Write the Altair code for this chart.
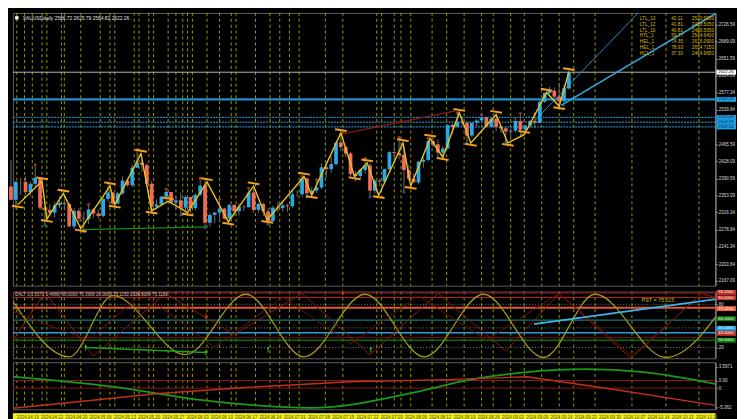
import altair as alt
import pandas as pd

W = 716
H_MAIN, H_OSC, H_BOT, H_BAND = 278, 68, 48, 9
XDOM = [0.4, 145.2]
FONT = "Liberation Sans"

# ---------------- price candles (daily XAUUSD) ----------------
opens = [2373, 2344, 2383, 2383, 2361, 2379, 2392, 2327, 2322, 2316, 2332, 2337, 2335, 2286, 2320, 2303,
         2302, 2323, 2314, 2309, 2346, 2360, 2336, 2358, 2386, 2376, 2414, 2425, 2420, 2379, 2329, 2334,
         2351, 2361, 2338, 2343, 2327, 2350, 2326, 2355, 2375, 2294, 2311, 2316, 2325, 2303, 2333, 2319,
         2329, 2328, 2360, 2322, 2335, 2319, 2298, 2327, 2326, 2332, 2330, 2356, 2356, 2391, 2358, 2364,
         2371, 2415, 2411, 2422, 2469, 2459, 2445, 2400, 2396, 2409, 2419, 2364, 2386, 2384, 2411, 2448,
         2446, 2442, 2409, 2390, 2382, 2427, 2431, 2472, 2465, 2447, 2456, 2507, 2503, 2514, 2512, 2484,
         2512, 2517, 2524, 2504, 2521, 2503, 2500, 2493, 2495, 2516, 2497, 2506, 2516, 2512, 2558, 2577,
         2582, 2569, 2559, 2586.72]
highs = [2431, 2385, 2392, 2395, 2384, 2417, 2393, 2341, 2335, 2339, 2352, 2346, 2337, 2326, 2326, 2318,
         2331, 2326, 2323, 2351, 2378, 2361, 2361, 2395, 2391, 2422, 2450, 2431, 2424, 2385, 2345, 2353,
         2364, 2362, 2351, 2360, 2354, 2351, 2358, 2388, 2387, 2316, 2318, 2342, 2327, 2336, 2334, 2336,
         2332, 2366, 2368, 2337, 2338, 2326, 2331, 2339, 2338, 2335, 2365, 2364, 2392, 2392, 2372, 2385,
         2424, 2425, 2440, 2469, 2483, 2463, 2448, 2407, 2412, 2431, 2425, 2389, 2390, 2412, 2450, 2469,
         2477, 2461, 2420, 2402, 2429, 2437, 2475, 2479, 2476, 2461, 2509, 2510, 2531, 2526, 2515, 2512,
         2520, 2526, 2525, 2523, 2525, 2506, 2503, 2500, 2523, 2529, 2507, 2518, 2528, 2560, 2578, 2590,
         2589, 2600, 2595, 2625.79]
lows = [2356, 2324, 2355, 2355, 2352, 2372, 2322, 2291, 2309, 2306, 2326, 2325, 2285, 2280, 2296, 2277,
        2291, 2305, 2303, 2306, 2340, 2332, 2335, 2354, 2373, 2372, 2413, 2405, 2374, 2326, 2325, 2333,
        2340, 2334, 2323, 2314, 2314, 2315, 2321, 2352, 2286, 2286, 2293, 2298, 2301, 2301, 2310, 2310,
        2320, 2327, 2316, 2316, 2309, 2294, 2293, 2317, 2318, 2318, 2326, 2351, 2350, 2353, 2353, 2359,
        2367, 2392, 2403, 2418, 2451, 2437, 2393, 2384, 2387, 2401, 2353, 2358, 2374, 2378, 2407, 2427,
        2432, 2364, 2385, 2382, 2378, 2414, 2428, 2459, 2439, 2432, 2455, 2488, 2500, 2505, 2470, 2480,
        2504, 2511, 2502, 2500, 2493, 2490, 2472, 2476, 2491, 2485, 2491, 2500, 2500, 2510, 2555, 2574,
        2562, 2546, 2547, 2584.82]
closes = [2344, 2383, 2383, 2361, 2379, 2392, 2327, 2322, 2316, 2332, 2337, 2335, 2286, 2320, 2303, 2302,
          2323, 2314, 2309, 2346, 2360, 2336, 2358, 2386, 2376, 2414, 2425, 2420, 2379, 2329, 2334, 2351,
          2361, 2338, 2343, 2327, 2350, 2326, 2355, 2375, 2294, 2311, 2316, 2325, 2303, 2333, 2319, 2329,
          2328, 2360, 2322, 2335, 2319, 2298, 2327, 2326, 2332, 2330, 2356, 2356, 2391, 2358, 2364, 2371,
          2415, 2411, 2422, 2469, 2459, 2445, 2400, 2396, 2409, 2419, 2364, 2386, 2384, 2411, 2448, 2446,
          2442, 2409, 2390, 2382, 2427, 2431, 2472, 2465, 2447, 2456, 2507, 2503, 2514, 2512, 2484, 2512,
          2517, 2524, 2504, 2521, 2503, 2500, 2493, 2495, 2516, 2497, 2506, 2516, 2512, 2558, 2577, 2582,
          2569, 2559, 2587, 2622.26]

# fractal dots (bar indices)
frac_hi = [5, 16, 20, 26, 32, 39, 43, 49, 60, 63, 68, 73, 80, 86, 92, 97, 105, 108]
frac_lo = [7, 15, 29, 35, 40, 53, 61, 74, 81, 88, 94, 102]

# zigzag pivots (bar position, price)
zz_pos = [1.4, 6.4, 7.4, 10.8, 14.4, 20.4, 21.4, 26.8, 29.0, 32.4, 36.4, 40.4, 44.8, 50.0, 52.8, 60.4,
          62.0, 68.0, 70.8, 73.4, 75.8, 80.8, 82.4, 86.4, 89.0, 92.4, 94.8, 100.0, 102.4, 105.8, 110.4,
          113.0, 115.0]
zz_price = [2333, 2385, 2302, 2358, 2281, 2374, 2333, 2445, 2320, 2341, 2316, 2383, 2296, 2374, 2300, 2395,
            2354, 2490, 2395, 2424, 2354, 2468, 2374, 2478, 2437, 2534, 2468, 2530, 2468, 2486, 2578,
            2548, 2623]

# dashed cycle lines (bar positions)
vlines = [1.2, 2.8, 4.4, 6.4, 7.4, 10.4, 11.0, 14.4, 18.4, 20.4, 21.4, 25.4, 26.4, 28.4, 29.4, 32.4,
          34.0, 35.4, 36.4, 37.4, 40.4, 43.0, 45.4, 46.4, 50.4, 53.4, 55.4, 57.4, 59.4, 64.8, 68.4, 75.4,
          76.4, 79.0, 80.4, 82.4, 86.8, 89.8, 93.4, 97.0, 99.4, 103.0, 105.8, 109.4, 113.0, 116.0, 120.4,
          128.0, 135.0, 141.8]

price_ticks = [2726.59, 2689.09, 2651.59, 2614.09, 2577.34, 2539.84, 2465.59, 2428.09, 2390.59,
               2353.09, 2316.34, 2278.84, 2241.34, 2203.84, 2167.09]

# table top right
tbl_names = ["LTL_13", "LTL_12", "LTL_10", "HTL_1", "HEL_1", "HEL_1", "HCL_1"]
tbl_vals = ["42.11", "41.81", "40.81", "59.77", "74.35", "78.93", "37.30"]
tbl_prices = ["2520.9050", "2483.5050", "2486.5050", "2544.6400", "2616.0900", "2654.7150", "2464.9650"]

# oscillator
sine_pos = [0.4, 12.0, 21.0, 36.0, 48.4, 60.4, 73.0, 85.2, 97.4, 109.8, 120.4, 135.0, 148.4]
sine_val = [84, 7, 92, 10, 94, 7, 94, 7, 94, 6, 94, 6, 92]
tri_pos = [0.4, 7.0, 17.0, 31.8, 46.0, 60.0, 74.0, 88.0, 102.0, 113.0, 127.8, 142.4, 150.0]
tri_val = [30, 97, 8, 95, 38, 95, 10, 95, 15, 95, 5, 95, 80]
tri2_pos = [0.4, 16.0, 27.0, 42.0, 56.0, 70.0, 84.0, 98.0, 113.0, 128.0, 142.4]
tri2_val = [70, 30, 95, 20, 90, 25, 92, 30, 95, 8, 95]

# bottom panel
g_pos = [0.4, 20.4, 40.4, 61.8, 84.4, 94.4, 106.4, 118.4, 130.4, 145.2]
g_val = [3.2, 0.5, -3.5, -5.5, -0.8, 2.3, 4.5, 5.3, 4.5, 1.2]
r_pos = [0.4, 15.8, 30.4, 48.4, 70.0, 90.0, 106.4, 125.0, 145.2]
r_val = [-5.6, -3.5, -1.5, 0.2, 1.8, 2.4, 3.2, -0.5, -4.8]

# time band
band_pos = [1, 6, 11, 16, 21, 26, 31, 36, 41, 46, 51, 56, 61, 66, 71, 76, 81, 86, 91, 96, 101, 106, 111,
            116, 121, 126, 131, 136, 141]
band_lbl = ["2024.04.15", "2024.04.22", "2024.04.29", "2024.05.06", "2024.05.13", "2024.05.20",
            "2024.05.27", "2024.06.03", "2024.06.10", "2024.06.17", "2024.06.24", "2024.07.01",
            "2024.07.08", "2024.07.15", "2024.07.22", "2024.07.29", "2024.08.05", "2024.08.12",
            "2024.08.19", "2024.08.26", "2024.09.02", "2024.09.09", "2024.09.16", "2024.09.23",
            "2024.09.30", "2024.10.07", "2024.10.14", "2024.10.21", "2024.10.28"]

# ---------------- helpers ----------------
XS = alt.Scale(domain=XDOM, nice=False, zero=False)


def X(f="i"):
    return alt.X(f"{f}:Q", scale=XS, axis=None)


def ysc(dom):
    return alt.Scale(domain=dom, nice=False, zero=False)


BOX = "M0,-1L8,-1L8,1L0,1Z"


def axis_r(values, fmt=None, expr=None):
    kw = dict(orient="right", values=values, title=None, labelFontSize=4.6, labelFont=FONT,
              labelColor="#d8d8d8", domainColor="#9a9a9a", tickColor="#9a9a9a", tickSize=2,
              labelPadding=1, grid=False, labelOverlap=False)
    if fmt:
        kw["format"] = fmt
    if expr:
        kw["labelExpr"] = expr
    return alt.Axis(**kw)


YM = ysc([2156.8, 2751.5])
YO = ysc([4.9, 97.7])
YB = ysc([-5.9, 7.24])
AXM = axis_r(price_ticks, fmt=".2f")
AXO = axis_r([80, 20], expr="datum.label")
AXB = axis_r([5.9, 2.15, 0, -5.362],
             expr="datum.value > 5 ? '3.5971' : datum.value > 1 ? '0.00' : datum.value < -5 ? '-5.362' : '0'")


def Y(f, scale, ax):
    return alt.Y(f"{f}:Q", scale=scale, axis=ax, title=None)


def vline_layer():
    return alt.Chart(pd.DataFrame({"i": vlines})).mark_rule(
        color="#9c9c00", strokeDash=[3, 3], strokeWidth=1).encode(x=X())


def hlines(vals, scale, ax, color, width=1.0, dash=None):
    kw = dict(color=color, strokeWidth=width)
    if dash:
        kw["strokeDash"] = dash
    return alt.Chart(pd.DataFrame({"v": vals})).mark_rule(**kw).encode(y=Y("v", scale, ax))


def boxes(vals, texts, fills, tcols, scale, ax):
    df = pd.DataFrame({"bx": [XDOM[1] + 0.2] * len(vals), "v": vals, "t": texts,
                       "f": fills, "tc": tcols})
    b = alt.Chart(df).mark_point(shape=BOX, size=25, filled=True, opacity=1, strokeWidth=0).encode(
        x=X("bx"), y=Y("v", scale, ax), color=alt.Color("f:N", scale=None))
    t = alt.Chart(df).mark_text(align="left", dx=2, fontSize=4.3, font=FONT).encode(
        x=X("bx"), y=Y("v", scale, ax), text="t:N", color=alt.Color("tc:N", scale=None))
    return [b, t]


def line2(p0, v0, p1, v1, scale, ax, color, width=1.0):
    return alt.Chart(pd.DataFrame({"i": [p0, p1], "v": [v0, v1]})).mark_line(
        color=color, strokeWidth=width, clip=True).encode(x=X(), y=Y("v", scale, ax))


def curve(pos, val, scale, ax, color, width, interp="linear"):
    return alt.Chart(pd.DataFrame({"i": pos, "v": val})).mark_line(
        color=color, strokeWidth=width, interpolate=interp, clip=True).encode(
        x=X(), y=Y("v", scale, ax))


# ---------------- main panel ----------------
n = len(opens)
cd = pd.DataFrame({"i": list(range(n)), "o": opens, "h": highs, "l": lows, "c": closes})
cd["dir"] = ["up" if c >= o else "down" for o, c in zip(opens, closes)]

wick = alt.Chart(cd).mark_rule(color="#6e6e6e", strokeWidth=1).encode(
    x=X(), y=Y("l", YM, AXM), y2="h:Q")
body = alt.Chart(cd).transform_calculate(x0="datum.i-0.38", x1="datum.i+0.38").mark_rect().encode(
    x=X("x0"), x2="x1:Q", y=Y("o", YM, AXM), y2="c:Q",
    color=alt.Color("dir:N", scale=alt.Scale(domain=["up", "down"], range=["#2aa8e8", "#f26b5a"]),
                    legend=None))

fh = pd.DataFrame({"i": frac_hi, "v": [highs[k] + 3 for k in frac_hi]})
fl = pd.DataFrame({"i": frac_lo, "v": [lows[k] - 3 for k in frac_lo]})
dots_hi = alt.Chart(fh).mark_circle(size=9, color="#a03a28", opacity=1).encode(x=X(), y=Y("v", YM, AXM))
dots_lo = alt.Chart(fl).mark_circle(size=9, color="#1f5a8c", opacity=1).encode(x=X(), y=Y("v", YM, AXM))

zz_line = curve(zz_pos, zz_price, YM, AXM, "#e8c51e", 1.4)
piv = []
for k, (ps, pr) in enumerate(zip(zz_pos, zz_price)):
    prev_p = zz_price[k - 1] if k > 0 else zz_price[k + 1]
    hi = pr > prev_p
    off = 5 if hi else -5
    piv.append({"a": ps - 1.2, "b": ps + 1.2, "y1": pr + off + 3, "y2": pr + off - 1})
piv_marks = alt.Chart(pd.DataFrame(piv)).mark_rule(color="#f5a020", strokeWidth=2).encode(
    x=X("a"), x2="b:Q", y=Y("y1", YM, AXM), y2="y2:Q")

title_txt = alt.Chart(pd.DataFrame({"t": ["XAUUSDdaily  2586.72 2625.79 2584.82 2622.26"]})).mark_text(
    align="left", baseline="middle", fontSize=5, font=FONT, color="#e0e0e0").encode(
    x=alt.value(10), y=alt.value(5), text="t:N")
title_sq = alt.Chart(pd.DataFrame({"t": [1]})).mark_square(size=12, color="#ffffff", opacity=1).encode(
    x=alt.value(4), y=alt.value(5))

tcol = "#d8bc00"
tbl = []
for xpos, col in [(639, tbl_names), (671, tbl_vals), (692, tbl_prices)]:
    tbl.append(alt.Chart(pd.DataFrame({"t": ["\n".join(col)]})).mark_text(
        align="left", baseline="top", fontSize=4.8, font=FONT, color=tcol, lineBreak="\n",
        lineHeight=6).encode(x=alt.value(xpos), y=alt.value(3), text="t:N"))

main = alt.layer(
    vline_layer(),
    hlines([2622.26], YM, AXM, "#b8b8b8", 1),
    hlines([2563.0], YM, AXM, "#1f8fd0", 2.2),
    hlines([2523.6, 2513.2, 2502.9], YM, AXM, "#2a84bf", 1.3, [2, 1]),
    line2(67.6, 2486, 91.6, 2538, YM, AXM, "#8b1a14", 1.2),
    line2(14.8, 2279, 40.4, 2285, YM, AXM, "#1c8a1c", 1.2),
    line2(105.0, 2484, 150.0, 2980, YM, AXM, "#2a8cc8", 1.0),
    line2(113.4, 2550, 150.0, 2780, YM, AXM, "#35a8e0", 1.6),
    wick, body, dots_hi, dots_lo, zz_line, piv_marks,
    *boxes([2622.26, 2563.0, 2523.6, 2513.2, 2502.9],
           ["2622.26", "2563.29", "2520.40", "2514.20", "2508.64"],
           ["#ffffff", "#1ea0e6", "#1ea0e6", "#1ea0e6", "#1ea0e6"],
           ["#000000", "#002040", "#002040", "#002040", "#002040"], YM, AXM),
    title_sq, title_txt, *tbl,
).properties(width=W, height=H_MAIN)

# ---------------- oscillator panel ----------------
up_arrows = alt.Chart(pd.DataFrame({"i": [15.4, 40.2, 53.0, 74.2], "v": [19.9, 13.1, 17.2, 17.2]})).mark_point(
    shape="arrow", size=40, filled=True, color="#2ad02a", opacity=1).encode(x=X(), y=Y("v", YO, AXO))
dn_arrows = alt.Chart(pd.DataFrame({"i": [26.4, 40.2, 68.4], "v": [95, 63.6, 96.3]})).mark_point(
    shape="arrow", size=40, filled=True, color="#f02a2a", opacity=1, angle=180).encode(
    x=X(), y=Y("v", YO, AXO))

osc_hdr = alt.Chart(pd.DataFrame({"t": ["CALT 1(1.5371 1.4966) 60.0000 75.3909 20.0000 75.1150 2026.5069 75.1150"]})).mark_text(
    align="left", baseline="middle", fontSize=4.5, font=FONT, color="#c0c0c0").encode(
    x=alt.value(2), y=alt.value(4), text="t:N")
pst = alt.Chart(pd.DataFrame({"i": [130.0], "v": [86.6], "t": ["PST = 75.115"]})).mark_text(
    align="left", fontSize=5.5, font=FONT, color="#d8bc00").encode(
    x=X(), y=Y("v", YO, AXO), text="t:N")

osc = alt.layer(
    vline_layer(),
    hlines([80.0, 47.2, 19.9], YO, AXO, "#7a7a7a", 1, [1, 2]),
    hlines([95.5], YO, AXO, "#8b1010", 1),
    hlines([89.5], YO, AXO, "#c02020", 1),
    hlines([75.115], YO, AXO, "#e0583e", 2),
    hlines([58.0], YO, AXO, "#13787c", 1.5),
    hlines([40.4], YO, AXO, "#2e9ede", 1.6),
    hlines([33.6], YO, AXO, "#801010", 1),
    hlines([30.0], YO, AXO, "#0b6a0b", 1.5),
    curve(sine_pos, sine_val, YO, AXO, "#a09a1c", 1.3, "monotone"),
    curve(tri_pos, tri_val, YO, AXO, "#8a1c10", 1.0),
    curve(tri2_pos, tri2_val, YO, AXO, "#6a1208", 1.0),
    line2(15.4, 19.9, 40.2, 13.1, YO, AXO, "#1ea01e", 1.5),
    line2(107.8, 52.6, 149.4, 90.8, YO, AXO, "#40b4ea", 1.8),
    up_arrows, dn_arrows, pst, osc_hdr,
    *boxes([96.5, 89.0, 74.0, 60.0, 46.5, 39.5, 30.0],
           ["96.2000", "90.0000", "75.1150", "60.0000", "45.0000", "43.0000", "30.0000"],
           ["#c0302a", "#c0302a", "#f0603e", "#0e7a0e", "#1ea0e6", "#c0302a", "#0e7a0e"],
           ["#ffffff"] * 7, YO, AXO),
).properties(width=W, height=H_OSC)

# ---------------- bottom panel ----------------
bot = alt.layer(
    vline_layer(),
    hlines([2.15], YB, AXB, "#8b1a1a", 1.2),
    hlines([0.0], YB, AXB, "#6a1010", 1.2),
    curve(g_pos, g_val, YB, AXB, "#1a9a1a", 1.8, "monotone"),
    curve(r_pos, r_val, YB, AXB, "#c0301a", 1.4),
).properties(width=W, height=H_BOT)

# ---------------- time band ----------------
band_bg = alt.Chart(pd.DataFrame({"a": [XDOM[0]], "b": [XDOM[1]]})).mark_rect(color="#f2ee1a").encode(
    x=X("a"), x2="b:Q")
band_txt = alt.Chart(pd.DataFrame({"i": band_pos, "t": band_lbl})).mark_text(
    align="left", baseline="middle", fontSize=4.5, font=FONT, color="#505000", dx=1).encode(
    x=X(), y=alt.value(4.5), text="t:N")
band = alt.layer(band_bg, band_txt).properties(width=W, height=H_BAND)

chart = alt.vconcat(main, osc, bot, band, spacing=2).properties(
    padding={"left": 0, "top": 0, "right": 0, "bottom": 0}
).configure(background="#000000").configure_view(stroke="#5e5e5e", strokeWidth=1)

chart.save("out.html", embed_options={"renderer": "svg", "actions": False})
